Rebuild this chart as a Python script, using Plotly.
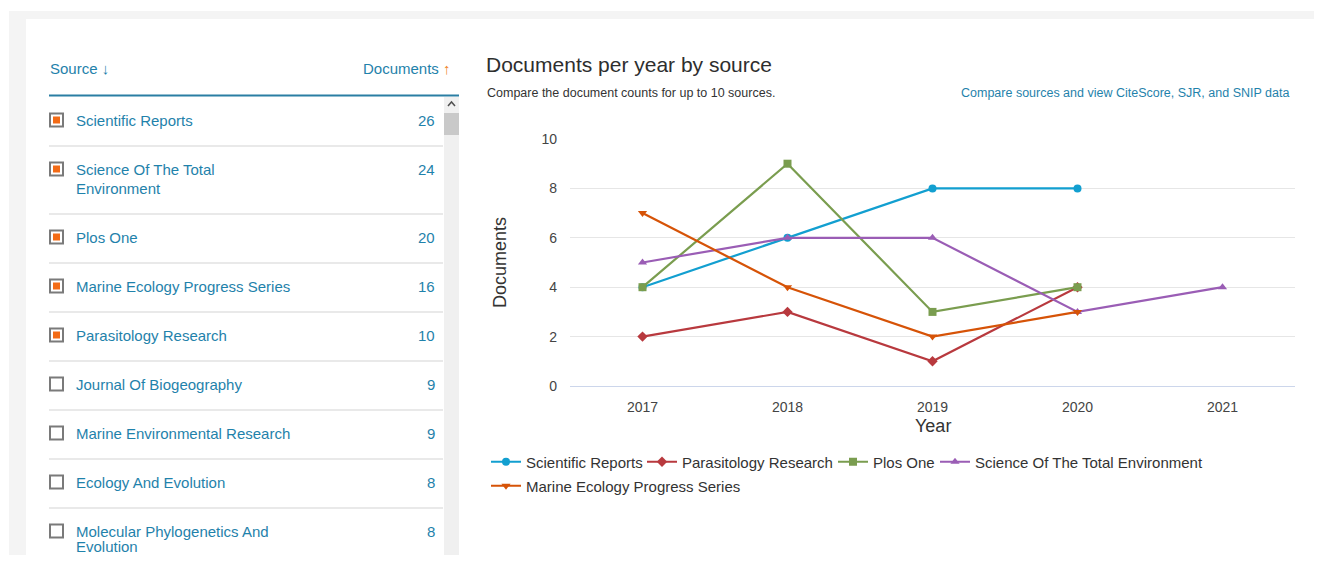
import textwrap
import plotly.graph_objects as go

# page is 1322x563; the browser adds an 8px body margin, so the figure is 16px smaller
PAGE_W, PAGE_H = 1322, 563
OFF = 8
W, H = PAGE_W - 2 * OFF, PAGE_H - 2 * OFF

# ---------------- data ----------------
years = [2017, 2018, 2019, 2020, 2021]
series_names = ["Scientific Reports", "Parasitology Research", "Plos One",
                "Science Of The Total Environment", "Marine Ecology Progress Series"]
scientific_reports = [4, 6, 8, 8, None]
parasitology_research = [2, 3, 1, 4, None]
plos_one = [4, 9, 3, 4, None]
science_total_env = [5, 6, 6, 3, 4]
marine_ecology = [7, 4, 2, 3, None]

source_names = ["Scientific Reports", "Science Of The Total Environment", "Plos One",
                "Marine Ecology Progress Series", "Parasitology Research",
                "Journal Of Biogeography", "Marine Environmental Research",
                "Ecology And Evolution", "Molecular Phylogenetics And Evolution"]
source_counts = [26, 24, 20, 16, 10, 9, 9, 8, 8]
source_selected = [True, True, True, True, True, False, False, False, False]

# ---------------- styles ----------------
series_values = [scientific_reports, parasitology_research, plos_one, science_total_env, marine_ecology]
series_colors = ["#129fd0", "#b8393e", "#7a9d4f", "#9a5db5", "#d65307"]
series_symbols = ["circle", "diamond", "square", "triangle-up", "triangle-down"]
FONT = "Arial, Liberation Sans, sans-serif"
LINK = "#1f82ab"
TEXT = "#333333"


def px(x):
    return (x - OFF) / W


def py(y):
    return 1 - (y - OFF) / H


fig = go.Figure()

legend_text_x = [528, 684, 875, 977, 528]
legend_row_y = [462, 462, 462, 462, 486]
legend_keys = ["legend", "legend2", "legend3", "legend4", "legend5"]

for i, (name, vals) in enumerate(zip(series_names, series_values)):
    fig.add_trace(go.Scatter(
        x=years, y=vals, name=name, mode="lines+markers",
        line=dict(color=series_colors[i], width=2.2),
        marker=dict(symbol=series_symbols[i], size=8, color=series_colors[i]),
        legend=legend_keys[i], cliponaxis=False, hoverinfo="x+y+name",
    ))

layout_legends = {}
for i, key in enumerate(legend_keys):
    layout_legends[key] = dict(
        x=px(legend_text_x[i] - 42), y=py(legend_row_y[i]),
        xanchor="left", yanchor="middle", orientation="h",
        font=dict(family=FONT, size=15, color=TEXT),
        bgcolor="rgba(0,0,0,0)", itemwidth=30,
    )

shapes = []
annotations = []

# page background strips
shapes.append(dict(type="rect", xref="paper", yref="paper", x0=px(9), x1=px(PAGE_W), y0=py(19), y1=py(11),
                   fillcolor="#f4f4f4", line=dict(width=0), layer="below"))
shapes.append(dict(type="rect", xref="paper", yref="paper", x0=px(9), x1=px(26), y0=py(PAGE_H), y1=py(11),
                   fillcolor="#f4f4f4", line=dict(width=0), layer="below"))

# left list header
annotations.append(dict(text="Source ↓", x=px(48), y=py(68), xref="paper", yref="paper",
                        xanchor="left", yanchor="middle", showarrow=False,
                        font=dict(family=FONT, size=15, color=LINK)))
annotations.append(dict(text="Documents <span style='color:#f0852d'>↑</span>", x=px(453), y=py(68),
                        xref="paper", yref="paper", xanchor="right", yanchor="middle", showarrow=False,
                        font=dict(family=FONT, size=15, color=LINK)))
shapes.append(dict(type="line", xref="paper", yref="paper", x0=px(49), x1=px(459), y0=py(95.5), y1=py(95.5),
                   line=dict(color="#2a7ea3", width=2)))

# scrollbar
shapes.append(dict(type="rect", xref="paper", yref="paper", x0=px(444), x1=px(459), y0=py(PAGE_H), y1=py(97),
                   fillcolor="#f0f0f0", line=dict(width=0)))
shapes.append(dict(type="rect", xref="paper", yref="paper", x0=px(444), x1=px(459), y0=py(135), y1=py(113),
                   fillcolor="#c9c9c9", line=dict(width=0)))
shapes.append(dict(type="path", xref="paper", yref="paper",
                   path=f"M {px(448)} {py(106)} L {px(451.5)} {py(102)} L {px(455)} {py(106)}",
                   line=dict(color="#505050", width=1.5)))

# list rows
LAST_TEXT_Y = 546  # keep the last visible line inside the drawing area
row_top = 97
for name, count, sel in zip(source_names, source_counts, source_selected):
    lines = textwrap.wrap(name, width=30)
    first_y = row_top + 23
    for k, line_txt in enumerate(lines):
        ly = min(first_y + 19 * k, LAST_TEXT_Y) if k > 0 else first_y
        annotations.append(dict(text=line_txt, x=px(74), y=py(ly), xref="paper", yref="paper",
                                xanchor="left", yanchor="middle", align="left", showarrow=False,
                                font=dict(family=FONT, size=15, color=LINK)))
    annotations.append(dict(text=str(count), x=px(437), y=py(first_y), xref="paper", yref="paper",
                            xanchor="right", yanchor="middle", showarrow=False,
                            font=dict(family=FONT, size=15, color=LINK)))
    shapes.append(dict(type="rect", xref="paper", yref="paper", x0=px(50), x1=px(63),
                       y0=py(first_y + 6.5), y1=py(first_y - 6.5),
                       fillcolor="white", line=dict(color="#7a7a7a", width=2)))
    if sel:
        shapes.append(dict(type="rect", xref="paper", yref="paper", x0=px(53), x1=px(60),
                           y0=py(first_y + 3.5), y1=py(first_y - 3.5),
                           fillcolor="#f36b16", line=dict(width=0)))
    row_h = 49 + 19 * (len(lines) - 1)
    row_top += row_h
    if row_top < PAGE_H:
        shapes.append(dict(type="line", xref="paper", yref="paper", x0=px(49), x1=px(443),
                           y0=py(row_top), y1=py(row_top), line=dict(color="#e9e9e9", width=2)))

# chart heading texts
annotations.append(dict(text="Documents per year by source", x=px(484), y=py(65), xref="paper", yref="paper",
                        xanchor="left", yanchor="middle", showarrow=False,
                        font=dict(family=FONT, size=21, color="#2e2e2e")))
annotations.append(dict(text="Compare the document counts for up to 10 sources.", x=px(485), y=py(93),
                        xref="paper", yref="paper", xanchor="left", yanchor="middle", showarrow=False,
                        font=dict(family=FONT, size=12.5, color=TEXT)))
annotations.append(dict(text="Compare sources and view CiteScore, SJR, and SNIP data", x=px(1291), y=py(93),
                        xref="paper", yref="paper", xanchor="right", yanchor="middle", showarrow=False,
                        font=dict(family=FONT, size=12.5, color=LINK)))

# axis titles
annotations.append(dict(text="Documents", x=px(500), y=py(263), xref="paper", yref="paper",
                        xanchor="center", yanchor="middle", textangle=-90, showarrow=False,
                        font=dict(family=FONT, size=18, color=TEXT)))
annotations.append(dict(text="Year", x=px(933), y=py(426), xref="paper", yref="paper",
                        xanchor="center", yanchor="middle", showarrow=False,
                        font=dict(family=FONT, size=18, color=TEXT)))

fig.update_layout(
    width=W, height=H, autosize=False,
    margin=dict(l=0, r=0, t=0, b=0),
    paper_bgcolor="white", plot_bgcolor="white",
    font=dict(family=FONT, color=TEXT),
    xaxis=dict(domain=[px(570), px(1295)], range=[2016.5, 2021.5], tickvals=years,
               ticktext=[str(y) for y in years], showgrid=False, zeroline=False,
               showline=True, linecolor="#ccd6eb", linewidth=1, ticks="",
               ticklabelstandoff=8, tickfont=dict(family=FONT, size=14, color="#444444"),
               fixedrange=True, automargin=False),
    yaxis=dict(domain=[py(386), py(139)], range=[0, 10], dtick=2, showgrid=True,
               gridcolor="#e6e6e6", gridwidth=1, zeroline=False, showline=False, ticks="",
               ticklabelstandoff=12, tickfont=dict(family=FONT, size=14, color="#444444"),
               fixedrange=True, automargin=False),
    shapes=shapes, annotations=annotations,
    showlegend=True,
    **layout_legends,
)

fig.write_html("out.html", config={"displayModeBar": False})
